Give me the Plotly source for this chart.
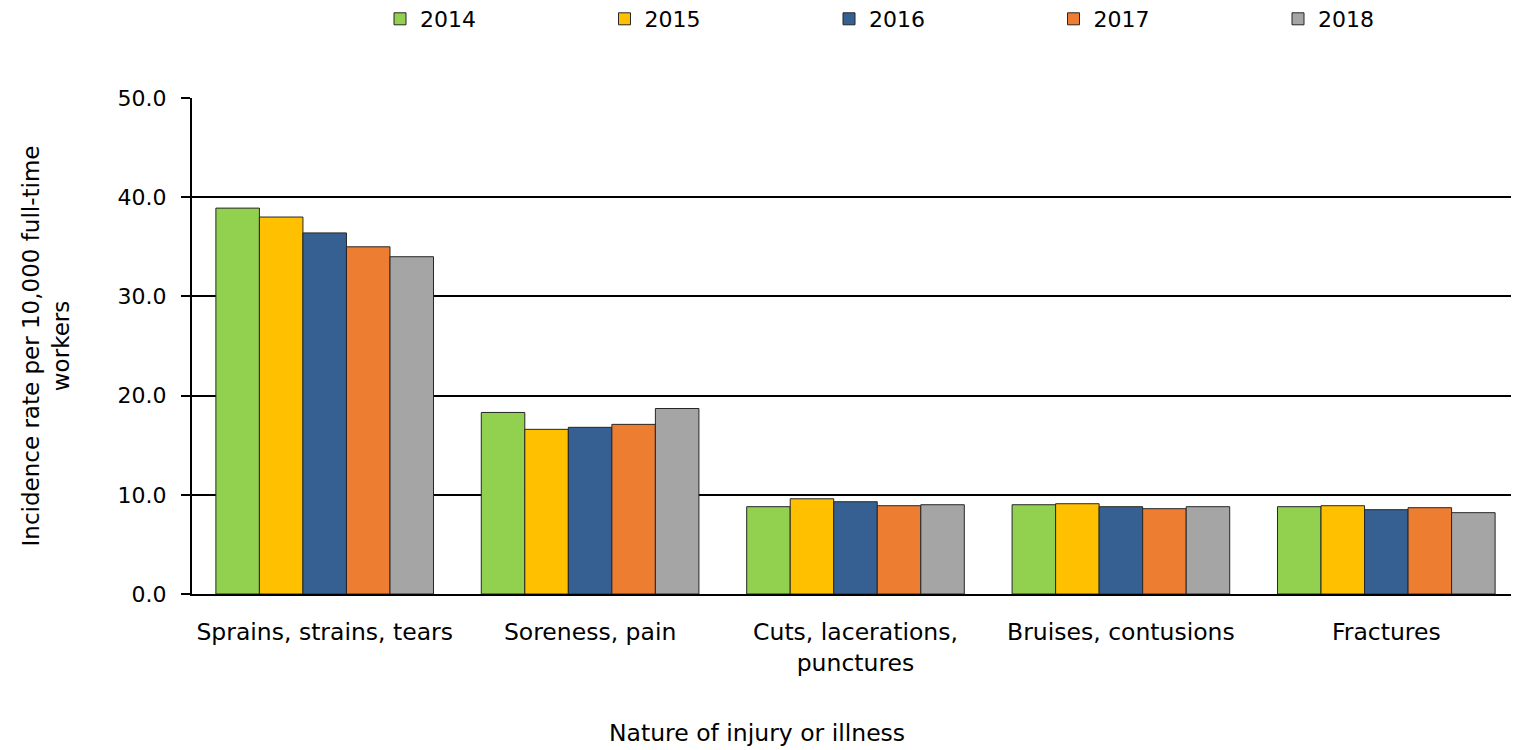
import plotly.graph_objects as go

categories = ["Sprains, strains, tears", "Soreness, pain", "Cuts, lacerations,<br>punctures",
              "Bruises, contusions", "Fractures"]
years = ["2014", "2015", "2016", "2017", "2018"]
v2014 = [38.9, 18.3, 8.8, 9.0, 8.8]
v2015 = [38.0, 16.6, 9.6, 9.1, 8.9]
v2016 = [36.4, 16.8, 9.3, 8.8, 8.5]
v2017 = [35.0, 17.1, 8.9, 8.6, 8.7]
v2018 = [34.0, 18.7, 9.0, 8.8, 8.2]
series = [v2014, v2015, v2016, v2017, v2018]
colors = ["#92D050", "#FFC000", "#366092", "#ED7D31", "#A5A5A5"]
y_ticks = [0, 10, 20, 30, 40, 50]

FONT = "DejaVu Sans"
fig = go.Figure()
for yr, vals, c in zip(years, series, colors):
    fig.add_trace(go.Bar(name=yr, x=categories, y=vals, marker=dict(color=c, line=dict(color="#262626", width=1))))

OFF = 8  # page body margin
W, H = 1519 - OFF, 750 - OFF
L, R, T, B = 192 - OFF, 0, 98 - OFF, 156
fig.update_layout(
    width=W, height=H,
    margin=dict(l=L, r=R, t=T, b=B),
    paper_bgcolor="white", plot_bgcolor="white",
    font=dict(family=FONT, size=22, color="black"),
    barmode="group", bargap=0.18, bargroupgap=0,
    legend=dict(orientation="h", xref="container", yref="container", x=(420 - OFF - 40) / W, xanchor="left",
                y=1 - (19 - OFF) / H, yanchor="middle", entrywidth=179.5, entrywidthmode="pixels",
                font=dict(family=FONT, size=22), traceorder="normal"),
    xaxis=dict(showline=True, linecolor="black", linewidth=2, ticks="", showgrid=False,
               tickfont=dict(family=FONT, size=23.5), ticklabelstandoff=16),
    yaxis=dict(range=[0, 50], tickvals=y_ticks, tickformat=".1f", showline=True, linecolor="black",
               linewidth=2, ticks="outside", ticklen=9, tickcolor="black", tickwidth=1.5,
               showgrid=True, gridcolor="black", gridwidth=1.5, zeroline=False,
               tickfont=dict(family=FONT, size=22), ticklabelstandoff=10,
               title=dict(text="Incidence rate per 10,000 full-time<br>workers", standoff=42,
                          font=dict(family=FONT, size=23))),
    annotations=[dict(text="Nature of injury or illness", xref="paper", yref="paper",
                      x=(757 - OFF - L) / (W - L - R), y=-(733 - OFF - (H - B)) / (H - T - B),
                      xanchor="center", yanchor="middle", showarrow=False,
                      font=dict(family=FONT, size=23.5))],
)
fig.write_html("out.html")
